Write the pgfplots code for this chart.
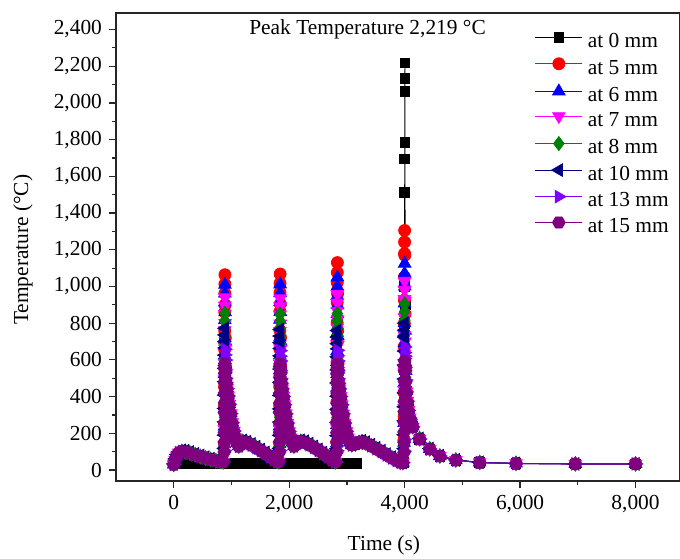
\documentclass[border=0pt]{standalone}
\usepackage{fontspec}
\setmainfont{Liberation Serif}
\usepackage{pgfplots}
\pgfplotsset{compat=1.18}
\usepackage{pgfplotstable}
\usetikzlibrary{calc}

\definecolor{c5}{RGB}{255,0,0}
\definecolor{c6}{RGB}{0,0,255}
\definecolor{c7}{RGB}{255,0,255}
\definecolor{c8}{RGB}{0,128,0}
\definecolor{c10}{RGB}{0,0,128}
\definecolor{c13}{RGB}{128,0,255}
\definecolor{c15}{RGB}{128,0,128}

\pgfdeclareplotmark{hexagon*}{%
  \pgfpathmoveto{\pgfqpoint{\pgfplotmarksize}{0pt}}%
  \pgfpathlineto{\pgfqpoint{0.5\pgfplotmarksize}{0.866\pgfplotmarksize}}%
  \pgfpathlineto{\pgfqpoint{-0.5\pgfplotmarksize}{0.866\pgfplotmarksize}}%
  \pgfpathlineto{\pgfqpoint{-\pgfplotmarksize}{0pt}}%
  \pgfpathlineto{\pgfqpoint{-0.5\pgfplotmarksize}{-0.866\pgfplotmarksize}}%
  \pgfpathlineto{\pgfqpoint{0.5\pgfplotmarksize}{-0.866\pgfplotmarksize}}%
  \pgfpathclose
  \pgfusepathqfillstroke}

\pgfplotstableread{
t v
170 35
270 35
370 35
470 35
570 35
670 35
770 35
870 35
970 35
1070 35
1170 35
1270 35
1370 35
1470 35
1570 35
1670 35
1770 35
1870 35
1970 35
2070 35
2170 35
2270 35
2370 35
2470 35
2570 35
2670 35
2770 35
2870 35
2970 35
3070 35
3170 35
3500 nan
3990 40
3995 400
3997 800
3999 1000
4000 1512
4001 1694
4002 1785
4003 2063
4004 2135
4005 2219
4010 900
4020 560
4035 430
4065 330
4115 255
4140 237
4260 167
4435 113
4610 75
4887 53
5300 40
5930 35
6957 33
8000 33
}\blackdata

\pgfplotstableread{
t r b m g n v p
0 30 30 30 30 33 30 30
25 55 55 55 55 60 55 55
55 78 78 78 78 84 78 78
90 94 94 94 94 100 94 94
140 101 101 101 101 107 101 101
200 99 99 99 99 105 99 99
280 92 92 92 92 98 92 92
370 83 83 83 83 88 83 83
460 74 74 74 74 79 74 74
550 65 65 65 65 70 65 65
640 57 57 57 57 62 57 57
730 50 50 50 50 54 50 50
820 45 45 45 45 48 45 45
857 44 44 44 44 46 44 44
877 146 141 134 125 117 105 98
878 248 237 223 206 190 167 151
879 350 334 313 287 262 228 205
880 452 430 402 368 335 290 258
881 554 527 492 450 408 351 312
882 656 624 582 531 481 412 366
883 758 720 671 612 554 474 419
884 860 817 761 693 626 535 473
885 962 913 850 774 699 597 526
886 1013 962 895 814 736 627 553
887 1064 1010 940 855 772 658 580
890 900 860 800 730 665 600 560
894 720 700 660 610 570 545 530
899 560 550 530 515 505 500 495
907 480 480 478 478 480 475 470
922 448 448 446 446 448 444 440
942 406 406 405 405 407 403 400
962 360 360 359 359 361 358 355
987 310 310 309 309 311 308 305
1012 260 260 259 259 261 258 255
1042 214 214 213 213 215 212 210
1072 178 178 177 177 180 177 175
1102 148 148 147 147 150 146 145
1127 130 130 130 130 133 129 128
1162 142 142 142 142 146 141 140
1197 155 155 155 155 161 155 155
1270 148 148 148 148 154 148 148
1350 136 136 136 136 142 136 136
1430 122 122 122 122 127 122 122
1510 106 106 106 106 111 106 106
1590 90 90 90 90 95 90 90
1670 73 73 73 73 77 73 73
1740 58 58 58 58 62 58 58
1790 48 48 48 48 51 48 48
1813 45 45 45 45 47 45 45
1833 147 142 134 126 117 106 98
1834 250 238 223 206 189 166 152
1835 352 335 312 287 261 227 205
1836 454 432 401 367 333 287 258
1837 557 529 490 448 406 348 312
1838 659 625 579 528 478 408 365
1839 761 722 668 609 550 469 418
1840 863 819 757 689 622 529 471
1841 966 915 846 770 694 590 525
1842 1017 964 891 810 730 620 551
1843 1068 1012 935 850 766 650 578
1846 905 862 797 728 662 595 558
1850 722 700 658 608 566 540 527
1855 560 550 530 512 502 497 492
1863 478 478 476 476 478 473 468
1878 446 446 444 444 446 442 438
1898 404 404 403 403 405 401 398
1918 358 358 357 357 359 356 352
1943 308 308 307 307 309 306 302
1968 258 258 257 257 259 256 252
1998 212 212 211 211 213 210 207
2028 178 178 177 177 180 177 175
2058 150 150 149 149 152 148 147
2083 130 130 130 130 133 129 128
2118 142 142 142 142 146 141 140
2153 150 150 150 150 155 150 150
2200 156 156 156 156 162 156 156
2270 150 150 150 150 156 150 150
2350 138 138 138 138 144 138 138
2430 123 123 123 123 128 123 123
2510 107 107 107 107 112 107 107
2590 90 90 90 90 95 90 90
2670 72 72 72 72 76 72 72
2740 56 56 56 56 60 56 56
2790 46 46 46 46 49 46 46
2805 44 44 44 44 46 44 44
2825 153 145 135 125 116 105 97
2826 261 245 227 206 187 166 151
2827 370 346 318 286 259 226 204
2828 478 446 410 367 330 287 258
2829 587 547 501 448 402 348 311
2830 696 648 592 529 474 409 364
2831 804 748 684 610 545 470 418
2832 913 849 775 690 617 530 471
2833 1021 949 867 771 688 591 525
2834 1076 1000 912 812 724 622 551
2835 1130 1050 958 852 760 652 578
2838 960 900 820 735 660 595 558
2842 760 730 680 620 570 540 527
2847 580 565 540 515 505 497 492
2855 478 478 476 476 478 473 468
2870 446 446 444 444 446 442 438
2890 404 404 403 403 405 401 398
2910 358 358 357 357 359 356 352
2935 308 308 307 307 309 306 302
2960 258 258 257 257 259 256 252
2990 212 212 211 211 213 210 207
3020 178 178 177 177 180 177 175
3050 150 150 149 149 152 148 147
3085 137 137 137 137 140 136 135
3150 142 142 142 142 147 141 140
3210 150 150 150 150 156 150 150
3260 153 153 153 153 159 153 153
3330 146 146 146 146 152 146 146
3420 132 132 132 132 138 132 132
3510 116 116 116 116 121 116 116
3600 100 100 100 100 105 100 100
3690 83 83 83 83 87 83 83
3780 66 66 66 66 70 66 66
3860 52 52 52 52 55 52 52
3930 42 42 42 42 44 42 42
3970 40 40 40 40 41 40 40
3990 167 149 139 127 116 103 96
3991 293 257 238 213 192 166 151
3992 420 366 337 300 268 229 207
3993 546 474 436 386 344 292 262
3994 673 583 535 473 420 355 318
3995 799 691 634 559 496 418 373
3996 926 800 733 646 572 481 429
3997 1052 908 832 732 648 544 484
3998 1179 1017 931 819 724 607 540
3999 1242 1071 981 862 762 639 567
4000 1305 1125 1030 905 800 670 595
4003 1170 1000 920 815 730 620 570
4008 850 760 700 640 600 560 540
4018 560 540 520 505 495 490 480
4030 430 430 428 428 430 425 420
4045 378 378 377 377 379 375 370
4065 327 327 326 326 328 324 320
4090 286 286 285 285 287 283 280
4115 256 256 255 255 257 253 250
4140 237 237 236 236 238 235 232
4260 170 170 170 170 172 169 167
4435 115 115 115 115 117 114 113
4610 76 76 76 76 78 76 75
4887 54 54 54 54 55 53 53
5300 41 41 41 41 42 40 40
5930 36 36 36 36 36 35 35
6957 33 33 33 33 33 33 33
8000 33 33 33 33 33 33 33
}\colored

\pgfplotsset{/pgf/number format/assume math mode=true}

\begin{document}
\begin{tikzpicture}[font=\fontsize{10.7}{12.8}\selectfont]
\begin{axis}[
  scale only axis, width=282pt, height=234pt,
  xmin=-1000, xmax=8770, ymin=-60, ymax=2490,
  xtick={0,2000,4000,6000,8000},
  ytick={0,200,400,600,800,1000,1200,1400,1600,1800,2000,2200,2400},
  minor x tick num=1, minor y tick num=1,
  tick pos=left, tick align=outside,
  major tick length=3.5pt, minor tick length=2pt,
  scaled ticks=false,
  xticklabel style={/pgf/number format/1000 sep={,}, font=\fontsize{10.7}{12.8}\selectfont},
  yticklabel style={/pgf/number format/1000 sep={,}, font=\fontsize{10.7}{12.8}\selectfont},
  axis line style={line width=0.7pt, black!85},
  every tick/.style={black!85, line width=0.6pt},
  xlabel={Time (s)}, ylabel={Temperature (°C)},
  xlabel style={at={(axis description cs:0.475,-0.137)}, anchor=center},
  ylabel style={at={(axis description cs:-0.165,0.494)}, anchor=center},
  legend style={draw=none, fill=none, at={(0.743,0.958)}, anchor=north west,
    inner sep=0pt, outer sep=0pt, row sep=2.8pt,
    nodes={inner sep=0pt, text height=7.5pt, text depth=2.2pt},
    /tikz/every odd column/.append style={column sep=2.6pt},
    font=\fontsize{10.7}{12.8}\selectfont},
  legend cell align=left,
  legend image code/.code={\draw[mark repeat=2,mark phase=2,#1] plot coordinates {(0pt,2.5pt) (11.7pt,2.5pt) (23.4pt,2.5pt)};},
]
\addplot[black, line width=0.4pt, mark=square*, mark size=2.4pt, mark options={solid, fill=black}, unbounded coords=jump] table[x=t,y=v]{\blackdata};
\addlegendentry{at 0 mm}
\addplot[c5, line width=0.4pt, mark=*, mark size=3pt, mark options={solid, fill=c5}] table[x=t,y=r]{\colored};
\addlegendentry{at 5 mm}
\addplot[c6, line width=0.4pt, mark=triangle*, mark size=3.6pt, mark options={solid, fill=c6}] table[x=t,y=b]{\colored};
\addlegendentry{at 6 mm}
\addplot[c7, line width=0.4pt, mark=triangle*, mark size=3.6pt, mark options={solid, fill=c7, rotate=180}] table[x=t,y=m]{\colored};
\addlegendentry{at 7 mm}
\addplot[c8, line width=0.4pt, mark=diamond*, mark size=3.5pt, mark options={solid, fill=c8}] table[x=t,y=g]{\colored};
\addlegendentry{at 8 mm}
\addplot[c10, line width=0.4pt, mark=triangle*, mark size=3.6pt, mark options={solid, fill=c10, rotate=90}] table[x=t,y=n]{\colored};
\addlegendentry{at 10 mm}
\addplot[c13, line width=0.4pt, mark=triangle*, mark size=3.6pt, mark options={solid, fill=c13, rotate=-90}] table[x=t,y=v]{\colored};
\addlegendentry{at 13 mm}
\addplot[c15, line width=0.4pt, mark=hexagon*, mark size=3.2pt, mark options={solid, fill=c15}] table[x=t,y=p]{\colored};
\addlegendentry{at 15 mm}
\node[anchor=center] at (rel axis cs:0.446,0.964) {Peak Temperature 2,219 °C};
\end{axis}
\pgfresetboundingbox
\path ($(current axis.south west)+(-58pt,-38.5pt)$) rectangle ($(current axis.north east)+(0pt,6.5pt)$);
\end{tikzpicture}
\end{document}
